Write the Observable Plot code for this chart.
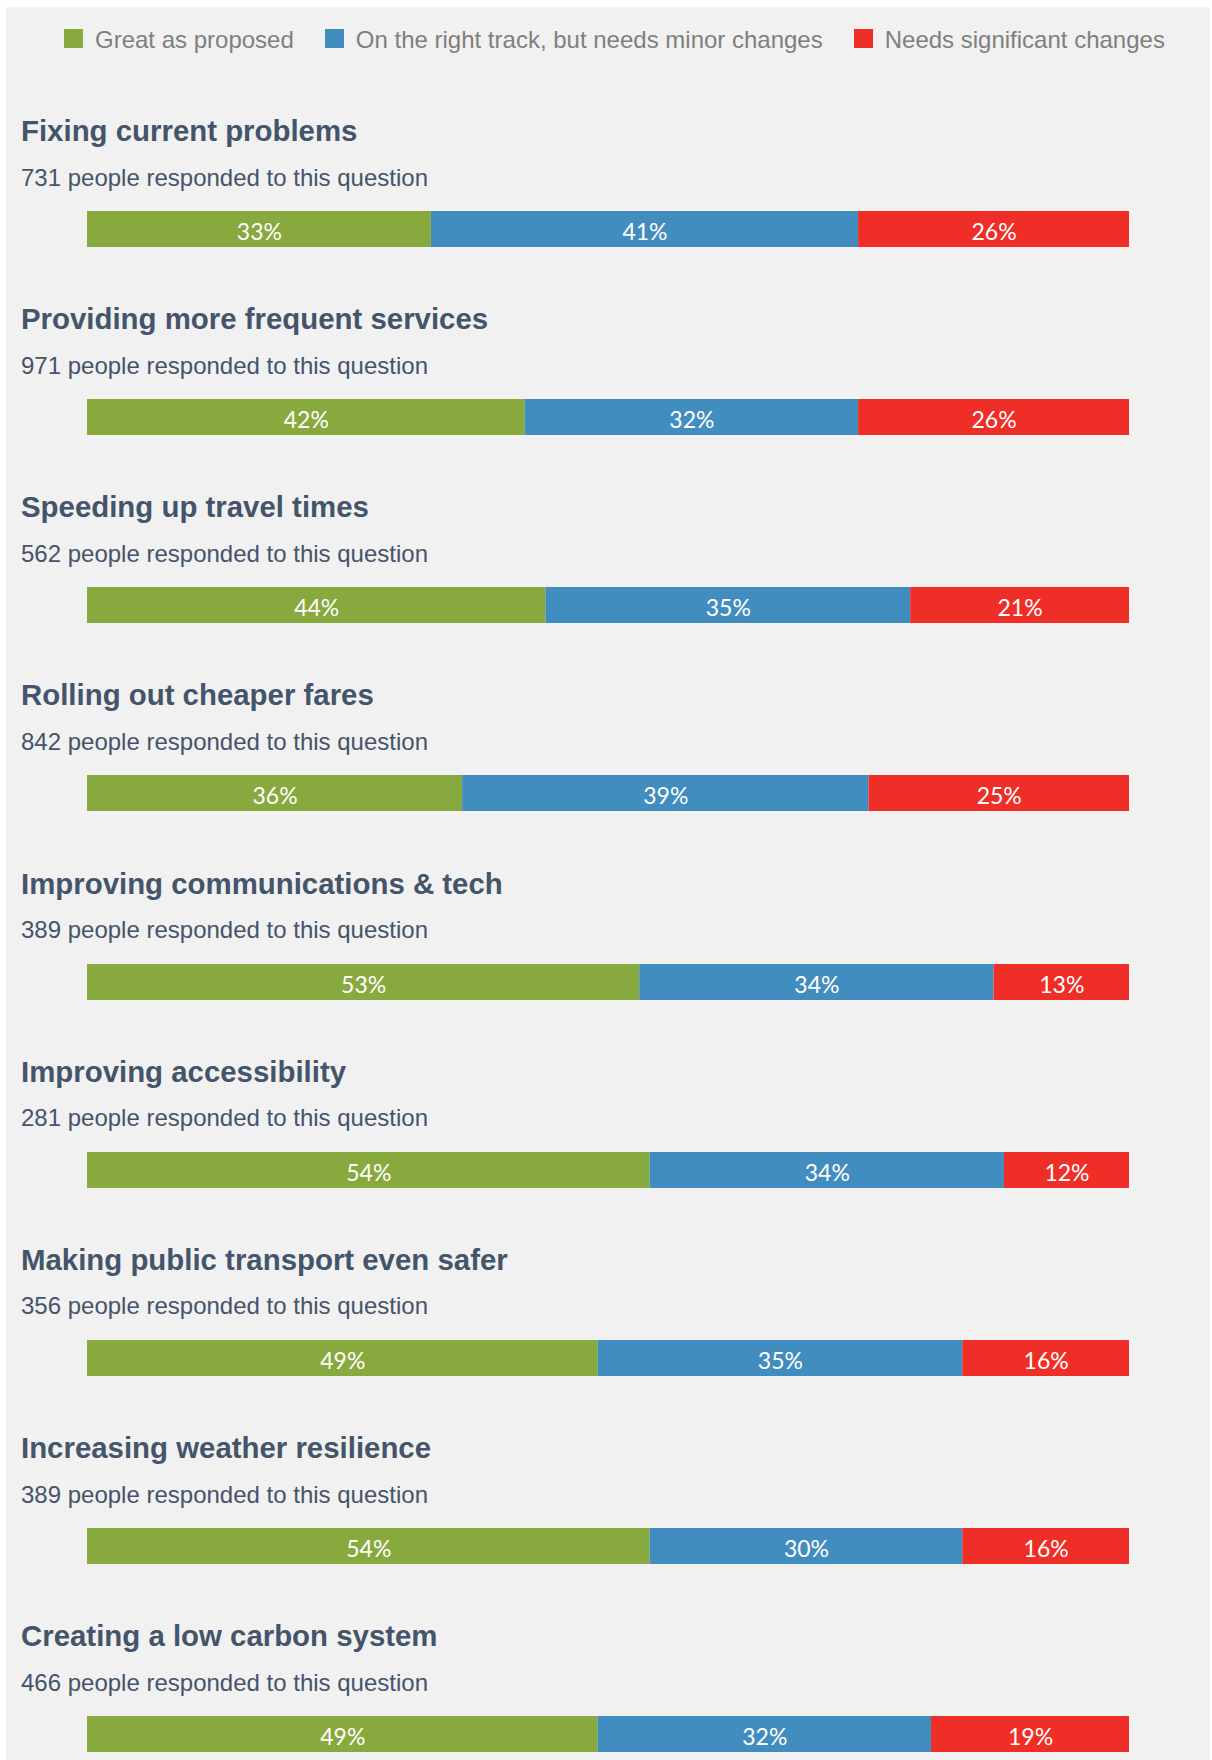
<!DOCTYPE html>
<html><head><meta charset="utf-8">
<script src="https://cdn.jsdelivr.net/npm/d3@7"></script>
<script src="https://cdn.jsdelivr.net/npm/@observablehq/plot@0.6"></script>
<style>
html,body{margin:0;padding:0;background:#fff;}
body{width:1212px;height:1760px;position:relative;overflow:hidden;font-family:"Liberation Sans",Arial,sans-serif;}
#panel{position:absolute;left:6px;top:7px;width:1204px;height:1753px;background:#f1f1f1;}
#legend{position:absolute;left:64px;top:25.7px;font-size:24px;line-height:28px;color:#7f7f7f;white-space:nowrap;}
.item{display:inline-block;margin-right:31px;}
.sw{display:inline-block;width:19px;height:19px;margin-right:12px;}
.section{position:absolute;left:0;width:1212px;height:188px;}
.title{position:absolute;left:21px;top:0;font-size:29.4px;line-height:34px;font-weight:bold;color:#44546a;white-space:nowrap;}
.sub{position:absolute;left:21px;top:49.7px;font-size:24px;line-height:28px;color:#44546a;white-space:nowrap;}
.bar{position:absolute;left:0;top:97px;}
</style></head><body>
<div id="panel"></div>
<div id="legend"></div>
<div id="chart"></div>
<script>
const questions = [
  "Fixing current problems",
  "Providing more frequent services",
  "Speeding up travel times",
  "Rolling out cheaper fares",
  "Improving communications & tech",
  "Improving accessibility",
  "Making public transport even safer",
  "Increasing weather resilience",
  "Creating a low carbon system"
];
const respondents = [731, 971, 562, 842, 389, 281, 356, 389, 466];
const great = [33, 42, 44, 36, 53, 54, 49, 54, 49];
const minor = [41, 32, 35, 39, 34, 34, 35, 30, 32];
const significant = [26, 26, 21, 25, 13, 12, 16, 16, 19];
const categories = ["Great as proposed", "On the right track, but needs minor changes", "Needs significant changes"];
const colors = ["#88a93d", "#428dbf", "#ef2e28"];

const series = [great, minor, significant];

// Legend
const legend = document.getElementById("legend");
categories.forEach((c, j) => {
  const item = document.createElement("span");
  item.className = "item";
  const sw = document.createElement("span");
  sw.className = "sw";
  sw.style.background = colors[j];
  item.appendChild(sw);
  item.appendChild(document.createTextNode(c));
  legend.appendChild(item);
});

// Sections
const chart = document.getElementById("chart");
const firstTop = 114, step = 188.125;
questions.forEach((q, i) => {
  const sec = document.createElement("div");
  sec.className = "section";
  sec.style.top = (firstTop + i * step) + "px";
  const t = document.createElement("div");
  t.className = "title";
  t.textContent = q;
  const s = document.createElement("div");
  s.className = "sub";
  s.textContent = respondents[i] + " people responded to this question";
  sec.appendChild(t);
  sec.appendChild(s);

  const rows = categories.map((c, j) => ({category: c, value: series[j][i]}));
  const p = Plot.plot({
    width: 1212,
    height: 36,
    marginTop: 0,
    marginBottom: 0,
    marginLeft: 87,
    marginRight: 83,
    x: {domain: [0, 100], axis: null},
    color: {domain: categories, range: colors},
    style: {background: "transparent"},
    marks: [
      Plot.barX(rows, Plot.stackX({x: "value", fill: "category", order: null})),
      Plot.text(rows, Plot.stackX({x: "value", z: "category", order: null,
        text: d => d.value + "%", fill: "white", fontSize: 23, fontFamily: "Lato", dy: 3}))
    ]
  });
  const wrap = document.createElement("div");
  wrap.className = "bar";
  wrap.appendChild(p);
  sec.appendChild(wrap);
  chart.appendChild(sec);
});
</script>
</body></html>
